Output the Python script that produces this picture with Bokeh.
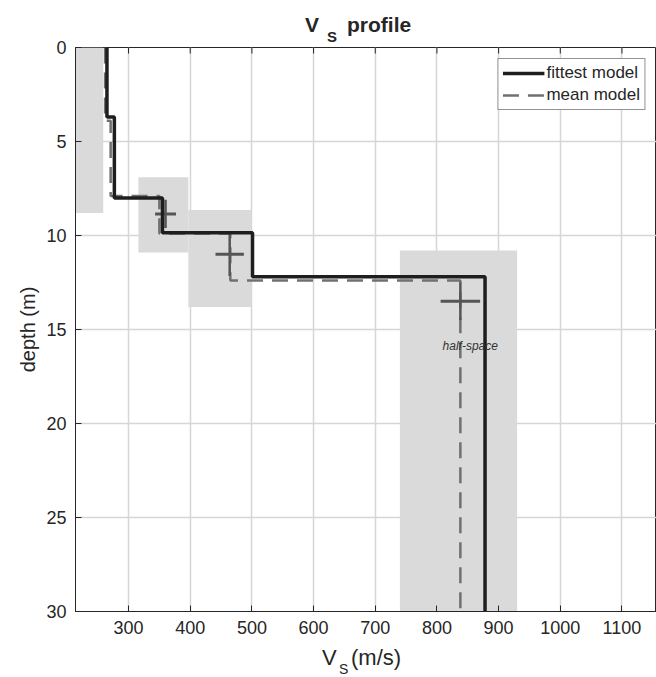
from bokeh.plotting import figure
from bokeh.models import Range1d, Label, Legend, LegendItem, FixedTicker, Div
from bokeh.layouts import column
from bokeh.embed import file_html
from bokeh.resources import INLINE

# ---- data ----
fit_depth = [0, 3.7, 8.0, 9.85, 12.2, 30]     # layer boundaries (m)
fit_vs = [265, 277, 355, 501, 878]            # Vs per layer (m/s)
mean_depth = [0, 3.9, 7.9, 9.9, 12.4, 30]
mean_vs = [262, 271, 350, 465, 838]
cross_depth = [8.85, 11.0, 13.5]
cross_vs = [360, 464, 838]
cross_vs_err = [17, 23, 32]
cross_depth_err = [0.75, 1.15, 1.0]
box_vs_min = [200, 316, 397, 740]
box_vs_max = [259, 397, 499, 930]
box_depth_top = [0, 6.9, 8.65, 10.8]
box_depth_bot = [8.8, 10.9, 13.8, 30]
x_ticks = [300, 400, 500, 600, 700, 800, 900, 1000, 1100]
y_ticks = [0, 5, 10, 15, 20, 25, 30]
halfspace_label = "half-space"

FONT = "Liberation Sans"
TXT = "#262626"

TITLE_H = 24
XLAB_H = 31
FIG_H = 677 - TITLE_H - XLAB_H
FRAME_TOP = 47
FRAME_BOTTOM = 611


def step(depths, vs):
    xs, ys = [], []
    for i, v in enumerate(vs):
        xs += [v, v]
        ys += [depths[i], depths[i + 1]]
    return xs, ys


p = figure(width=656, height=FIG_H, output_backend="svg", toolbar_location=None,
           x_range=Range1d(214, 1156), y_range=Range1d(30, 0),
           min_border_left=75, min_border_right=0,
           min_border_top=FRAME_TOP - TITLE_H,
           min_border_bottom=TITLE_H + FIG_H - FRAME_BOTTOM)
p.background_fill_color = "white"
p.border_fill_color = None
p.outline_line_color = TXT
p.outline_line_width = 1

for ax in (p.xaxis[0], p.yaxis[0]):
    ax.axis_line_color = TXT
    ax.major_tick_line_color = TXT
    ax.major_tick_in = 6
    ax.major_tick_out = 0
    ax.minor_tick_line_color = None
    ax.major_label_text_font = FONT
    ax.major_label_text_font_size = "18px"
    ax.major_label_text_color = TXT
p.xaxis.ticker = FixedTicker(ticks=x_ticks)
p.yaxis.ticker = FixedTicker(ticks=y_ticks)
p.xaxis.major_label_standoff = 9
p.yaxis.major_label_standoff = 9
p.yaxis.axis_label = "depth (m)"
p.yaxis.axis_label_text_font = FONT
p.yaxis.axis_label_text_font_size = "20px"
p.yaxis.axis_label_text_font_style = "normal"
p.yaxis.axis_label_text_color = TXT
p.yaxis.axis_label_standoff = 4

p.xgrid.ticker = FixedTicker(ticks=x_ticks)
p.ygrid.ticker = FixedTicker(ticks=y_ticks)
p.grid.grid_line_color = "#d6d6d6"
p.grid.grid_line_width = 1.5

# top-axis tick marks (MATLAB box style)
p.segment(x0=x_ticks, y0=[0] * len(x_ticks), x1=x_ticks, y1=[0.32] * len(x_ticks),
          line_color=TXT, line_width=1)

# shaded uncertainty boxes
p.quad(left=box_vs_min, right=box_vs_max, top=box_depth_top, bottom=box_depth_bot,
       fill_color="#dadada", line_color=None)

# mean model
mx, my = step(mean_depth, mean_vs)
mean_r = p.line(mx, my, line_color="#707070", line_width=2.5, line_dash="16 9")

# crosses
p.segment(x0=[v - e for v, e in zip(cross_vs, cross_vs_err)], y0=cross_depth,
          x1=[v + e for v, e in zip(cross_vs, cross_vs_err)], y1=cross_depth,
          line_color="#555555", line_width=3)
p.segment(x0=cross_vs, y0=[d - e for d, e in zip(cross_depth, cross_depth_err)],
          x1=cross_vs, y1=[d + e for d, e in zip(cross_depth, cross_depth_err)],
          line_color="#555555", line_width=2.5)

# fittest model
fx, fy = step(fit_depth, fit_vs)
fit_r = p.line(fx, fy, line_color="#1e1e1e", line_width=3.5)

p.add_layout(Label(x=mean_vs[-1] + 16, y=15.9, text=halfspace_label, text_font=FONT,
                   text_font_size="12px", text_font_style="italic", text_color="#333333",
                   text_align="center", text_baseline="middle"))

legend = Legend(items=[LegendItem(label="fittest model", renderers=[fit_r]),
                       LegendItem(label="mean model", renderers=[mean_r])],
                location="top_right", margin=11, padding=4, spacing=2,
                label_text_font=FONT, label_text_font_size="17px", label_text_color=TXT,
                glyph_width=42, glyph_height=20, label_height=20, label_standoff=2,
                border_line_color=TXT, border_line_width=1, background_fill_alpha=1)
p.add_layout(legend)

SPAN = ("position:absolute; left:{l}px; top:{t}px; white-space:nowrap; line-height:1; "
        "font-family:'Liberation Sans'; font-size:{s}px; font-weight:{w}; color:#262626;")

title_html = ('<div style="position:relative; width:656px; height:%dpx; overflow:visible;">' % TITLE_H +
              '<span style="' + SPAN.format(l=305, t=14, s=21, w="bold") + '">V</span>' +
              '<span style="' + SPAN.format(l=327, t=29, s=15, w="bold") + '">S</span>' +
              '<span style="' + SPAN.format(l=347, t=14, s=21, w="bold") + '">profile</span>' +
              '</div>')
xlab_html = ('<div style="position:relative; width:656px; height:%dpx;">' % XLAB_H +
             '<span style="' + SPAN.format(l=322, t=1, s=22, w="normal") + '">V</span>' +
             '<span style="' + SPAN.format(l=339, t=16, s=14, w="normal") + '">S</span>' +
             '<span style="' + SPAN.format(l=351, t=1, s=22, w="normal") + '">(m/s)</span>' +
             '</div>')

title_div = Div(text=title_html, width=656, height=TITLE_H, margin=0,
                styles={"overflow": "visible", "z-index": "2"})
xlab_div = Div(text=xlab_html, width=656, height=XLAB_H, margin=0)

layout = column(title_div, p, xlab_div, spacing=0)

open("out.html", "w").write(file_html(layout, INLINE))
